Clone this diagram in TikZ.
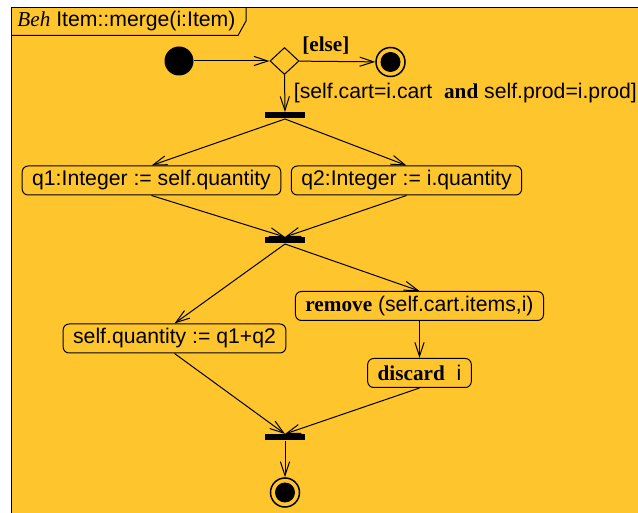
\documentclass[tikz,border=0pt]{standalone}
\usepackage{fontspec}
\setmainfont{Liberation Sans}
\newfontfamily\serifkw{Liberation Serif}
\usepackage{tikz}
\usetikzlibrary{arrows.meta, shapes.geometric}

\definecolor{behfill}{RGB}{255,197,44}
\newcommand{\kw}[1]{{\serifkw\bfseries #1}}

\begin{document}
\begin{tikzpicture}[x=0.5pt, y=-0.5pt, line width=0.5pt,
    font=\fontsize{10.6}{12.7}\selectfont,
    flow/.style={-{Straight Barb[length=7pt, width=4.6pt]}},
    action/.style={draw, rounded corners=3pt, inner xsep=5pt, inner ysep=0pt,
        minimum height=14.5pt},
    bar/.style={fill=black, inner sep=0pt, minimum width=20pt, minimum height=3pt},
    startnode/.style={circle, fill=black, inner sep=0pt, minimum size=14.5pt},
    endnode/.style={circle, draw, line width=0.75pt, inner sep=0pt, minimum size=14.5pt,
        path picture={\fill (path picture bounding box.center) circle (5pt);}},
    choice/.style={diamond, draw, inner sep=0pt, minimum width=14.5pt,
        minimum height=13.5pt}]
    \useasboundingbox (0, 0) rectangle (638, 513);
    \clip (0, 0) rectangle (638, 513);

    % The frame with its name tab
    \fill[white] (0, 0) rectangle (638, 513);
    \draw[fill=behfill, line width=0.9pt] (11.5, 7.5) rectangle (660, 540);
    \draw (11.5, 35.5) -- (238, 35.5) -- (246, 21) -- (246, 7.5);
    \node[anchor=base west, inner sep=0pt] (title) at (17, 27)
        {\textit{\serifkw Beh} Item::merge(i:Item)};

    % Start and the first choice
    \node[startnode] (start) at (179, 61) {};
    \node[choice] (check) at (284.5, 61) {};
    \node[endnode] (stopA) at (390.5, 62) {};
    \draw[flow] (start) -- (check);
    \draw[flow] (check) -- node[above, pos=0.35] {\kw{[else]}} (stopA);

    % Fork into the two quantities
    \node[bar] (forkA) at (285, 115.5) {};
    \draw[flow] (check.south) -- node[right, xshift=1pt]
        {[self.cart=i.cart\ \ \kw{and} self.prod=i.prod]} (forkA.north);
    \node[action] (qone) at (151.5, 180.5) {q1:Integer := self.quantity};
    \node[action] (qtwo) at (406.5, 180.5) {q2:Integer := i.quantity};
    \draw[flow] (forkA.south) -- (qone.north);
    \draw[flow] (forkA.south) -- (qtwo.north);

    % Join, then fork again
    \node[bar] (forkB) at (285, 240.5) {};
    \draw[flow] (qone.south) -- (forkB.north);
    \draw[flow] (qtwo.south) -- (forkB.north);
    \node[action] (addq) at (174.5, 338.5) {self.quantity := q1+q2};
    \node[action] (remove) at (419.5, 306) {\kw{remove} (self.cart.items,i)};
    \node[action] (discard) at (419.5, 373) {\kw{discard}\ \ i};
    \draw[flow] (forkB.south) -- (addq.north);
    \draw[flow] (forkB.south) -- (remove.north);
    \draw[flow] (remove) -- (discard);

    % Last join and the end
    \node[bar] (joinC) at (285, 437.5) {};
    \draw[flow] (addq.south) -- (joinC.north);
    \draw[flow] (discard.south) -- (joinC.north);
    \node[endnode] (stopB) at (285, 492.5) {};
    \draw[flow] (joinC) -- (stopB);
\end{tikzpicture}
\end{document}
